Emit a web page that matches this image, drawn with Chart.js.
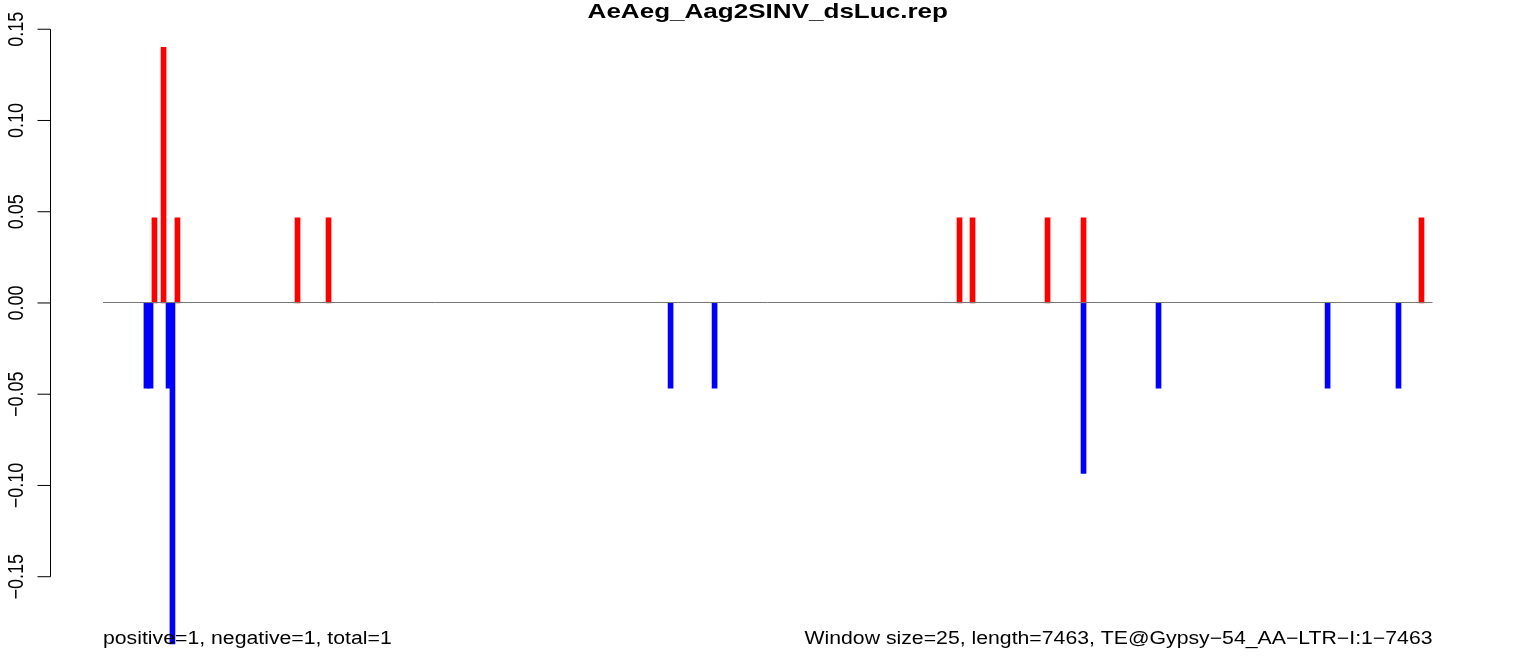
<!DOCTYPE html>
<html>
<head>
<meta charset="utf-8">
<script src="https://cdn.jsdelivr.net/npm/chart.js@4.4.1/dist/chart.umd.min.js"></script>
<style>
  html, body { margin: 0; padding: 0; background: #fff; }
  canvas { display: block; }
</style>
</head>
<body>
<canvas id="chart" width="1536" height="656"></canvas>
<script>
const TITLE = 'AeAeg_Aag2SINV_dsLuc.rep';
const FOOT_LEFT = 'positive=1, negative=1, total=1';
const FOOT_RIGHT = 'Window size=25, length=7463, TE@Gypsy\u221254_AA\u2212LTR\u2212I:1\u22127463';
const SEQ_LENGTH = 7463;

// window positions (bp) and values
const posX = [289, 340, 418, 1092, 1266, 4808, 4881, 5302, 5504, 7401];
const posY = [0.0467, 0.1401, 0.0467, 0.0467, 0.0467, 0.0467, 0.0467, 0.0467, 0.0467, 0.0467];
const negX = [244, 267, 368, 390, 3186, 3433, 5504, 5925, 6874, 7272];
const negY = [-0.0467, -0.0467, -0.0467, -0.1868, -0.0467, -0.0467, -0.0934, -0.0467, -0.0467, -0.0467];

const yTicks = [0.15, 0.10, 0.05, 0.00, -0.05, -0.10, -0.15];
const yTickLabels = ['0.15', '0.10', '0.05', '0.00', '\u22120.05', '\u22120.10', '\u22120.15'];

const FONT = '"Liberation Sans", Arial, Helvetica, sans-serif';
// the original raster is a bit wider than tall, so its glyphs come out stretched
const STRETCH = 1.18;
const TITLE_STRETCH = 1.24;

function stretchedText(ctx, text, x, y, sx, align) {
  ctx.save();
  ctx.translate(x, y);
  ctx.scale(sx, 1);
  ctx.textAlign = align;
  ctx.fillText(text, 0, 0);
  ctx.restore();
}

// R style extras: axis on the left, zero line, title, footers
const rDecor = {
  id: 'rDecor',
  afterDatasetsDraw(chart) {
    const { ctx, chartArea, scales: { x, y } } = chart;
    ctx.save();

    // zero line over the sequence length
    const zy = Math.floor(y.getPixelForValue(0)) + 0.5;
    ctx.strokeStyle = '#777777';
    ctx.lineWidth = 1;
    ctx.beginPath();
    ctx.moveTo(x.getPixelForValue(0), zy);
    ctx.lineTo(x.getPixelForValue(SEQ_LENGTH), zy);
    ctx.stroke();

    // y axis
    const ax = Math.round(chartArea.left) + 0.5;
    ctx.strokeStyle = '#000';
    ctx.beginPath();
    ctx.moveTo(ax, y.getPixelForValue(yTicks[0]));
    ctx.lineTo(ax, y.getPixelForValue(yTicks[yTicks.length - 1]));
    yTicks.forEach(v => {
      const py = y.getPixelForValue(v);
      ctx.moveTo(ax, py);
      ctx.lineTo(ax - 13, py);
    });
    ctx.stroke();

    ctx.fillStyle = '#000';
    ctx.font = '18px ' + FONT;
    ctx.textAlign = 'center';
    ctx.textBaseline = 'alphabetic';
    yTicks.forEach((v, i) => {
      ctx.save();
      ctx.translate(ax - 27.5, y.getPixelForValue(v));
      ctx.rotate(-Math.PI / 2);
      ctx.scale(1, STRETCH);
      ctx.fillText(yTickLabels[i], 0, 0);
      ctx.restore();
    });

    // title
    ctx.font = 'bold 21px ' + FONT;
    stretchedText(ctx, TITLE, (chartArea.left + chartArea.right) / 2, 18, TITLE_STRETCH, 'center');

    // footers
    ctx.font = '18px ' + FONT;
    stretchedText(ctx, FOOT_LEFT, x.getPixelForValue(0), 644, STRETCH, 'left');
    stretchedText(ctx, FOOT_RIGHT, x.getPixelForValue(SEQ_LENGTH), 644, STRETCH, 'right');

    ctx.restore();
  }
};

new Chart(document.getElementById('chart').getContext('2d'), {
  type: 'bar',
  data: {
    datasets: [
      {
        label: 'positive',
        data: posX.map((v, i) => ({ x: v, y: posY[i] })),
        backgroundColor: '#FF0000',
        borderWidth: 0,
        barThickness: 5,
        grouped: false,
      },
      {
        label: 'negative',
        data: negX.map((v, i) => ({ x: v, y: negY[i] })),
        backgroundColor: '#0000FF',
        borderWidth: 0,
        barThickness: 5,
        grouped: false,
      },
    ],
  },
  options: {
    responsive: false,
    devicePixelRatio: 1,
    animation: false,
    layout: { padding: { left: 49.8, right: 50.3, top: 23.4, bottom: 6.3 } },
    plugins: {
      legend: { display: false },
      tooltip: { enabled: false },
    },
    scales: {
      x: { type: 'linear', min: -298.5, max: 7761.5, offset: false, display: false },
      y: { type: 'linear', min: -0.19, max: 0.1532, display: false },
    },
  },
  plugins: [rDecor],
});
</script>
</body>
</html>
